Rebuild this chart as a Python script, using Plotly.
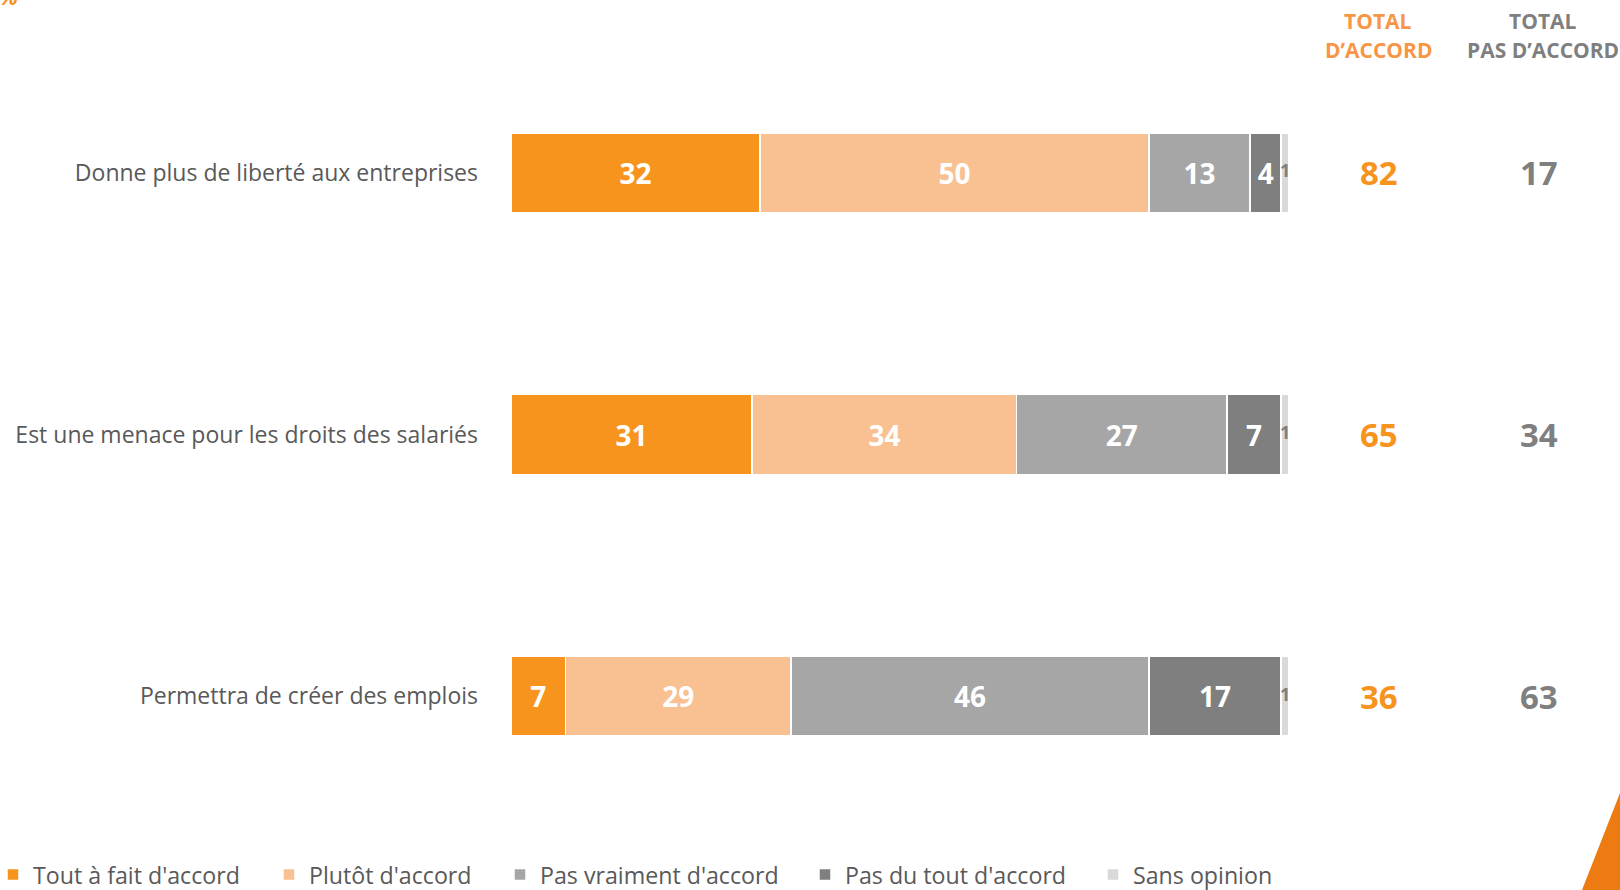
import plotly.graph_objects as go

categories = [
    "Donne plus de liberté aux entreprises",
    "Est une menace pour les droits des salariés",
    "Permettra de créer des emplois",
]
series_names = ["Tout à fait d'accord", "Plutôt d'accord", "Pas vraiment d'accord",
                "Pas du tout d'accord", "Sans opinion"]
tout_a_fait = [32, 31, 7]
plutot = [50, 34, 29]
pas_vraiment = [13, 27, 46]
pas_du_tout = [4, 7, 17]
sans_opinion = [1, 1, 1]
total_accord = [82, 65, 36]
total_pas_accord = [17, 34, 63]
header_accord = ["TOTAL", "D\u2019ACCORD"]
header_pas = ["TOTAL", "PAS D\u2019ACCORD"]

colors = ["#F7941D", "#F9C092", "#A6A6A6", "#7F7F7F", "#D9D9D9"]
series = [tout_a_fait, plutot, pas_vraiment, pas_du_tout, sans_opinion]

W, H = 1620, 890
L, R, T, B = 511, 1289, 42, 827
FONT = "Open Sans"


def px_x(p):
    return (p - L) / (R - L)


def px_y(p):
    return (B - p) / (B - T)


fig = go.Figure()
legend_px = [18, 294, 525, 830, 1118]
for i, (name, vals, col) in enumerate(zip(series_names, series, colors)):
    is_last = i == len(series) - 1
    fig.add_trace(go.Bar(
        y=categories, x=vals, name=name, orientation="h",
        marker=dict(color=col, line=dict(color="white", width=1.5)),
        text=None if is_last else vals,
        texttemplate=None if is_last else "%{x}",
        textposition="none" if is_last else "inside",
        insidetextanchor="middle",
        textangle=0,
        textfont=dict(family=FONT, size=28, color="white", weight="bold"),
        legend="legend" if i == 0 else f"legend{i+1}",
        hoverinfo="skip",
    ))

# small labels for the "Sans opinion" segment, centred on the segment
cum_before = [a + b + c + d for a, b, c, d in zip(tout_a_fait, plutot, pas_vraiment, pas_du_tout)]
fig.add_trace(go.Scatter(
    y=categories, x=[c + s / 2 for c, s in zip(cum_before, sans_opinion)],
    text=[str(s) for s in sans_opinion], mode="text",
    textfont=dict(family=FONT, size=18, color="#7F7F7F", weight="bold"),
    textposition="middle center", showlegend=False, cliponaxis=False, hoverinfo="skip",
))

annotations = []
for cat, ta, tp in zip(categories, total_accord, total_pas_accord):
    annotations.append(dict(x=px_x(1379), y=cat, xref="paper", yref="y", text=str(ta),
                            showarrow=False, xanchor="center", yanchor="middle",
                            font=dict(family=FONT, size=33, color="#F7941D", weight="bold")))
    annotations.append(dict(x=px_x(1539), y=cat, xref="paper", yref="y", text=str(tp),
                            showarrow=False, xanchor="center", yanchor="middle",
                            font=dict(family=FONT, size=33, color="#7F7F7F", weight="bold")))

for txt, yy in zip(header_accord, [21, 50]):
    annotations.append(dict(x=px_x(1378), y=px_y(yy), xref="paper", yref="paper", text=txt,
                            showarrow=False, xanchor="center", yanchor="middle",
                            font=dict(family=FONT, size=21, color="#F79646", weight="bold")))
for txt, yy in zip(header_pas, [21, 50]):
    annotations.append(dict(x=px_x(1543), y=px_y(yy), xref="paper", yref="paper", text=txt,
                            showarrow=False, xanchor="center", yanchor="middle",
                            font=dict(family=FONT, size=21, color="#7F7F7F", weight="bold")))

annotations.append(dict(x=px_x(-3), y=px_y(13), xref="paper", yref="paper", text="%",
                        showarrow=False, xanchor="left", yanchor="bottom",
                        font=dict(family=FONT, size=22, color="#F7941D", weight="bold",
                                  style="italic")))

legend_common = dict(orientation="h", yanchor="middle", xanchor="left",
                     font=dict(family=FONT, size=23.2, color="#595959"),
                     bgcolor="rgba(0,0,0,0)", borderwidth=0, itemclick=False,
                     itemdoubleclick=False)
legend_layout = {}
for i, p in enumerate(legend_px):
    key = "legend" if i == 0 else f"legend{i+1}"
    legend_layout[key] = dict(x=px_x(p - 25), y=px_y(875), **legend_common)

shapes = [dict(type="path", xref="paper", yref="paper",
               path=f"M {px_x(1620)} {px_y(793)} L {px_x(1620)} {px_y(890)} L {px_x(1582)} {px_y(890)} Z",
               fillcolor="#EE7A12", line=dict(width=0))]

fig.update_layout(
    width=W, height=H,
    margin=dict(l=L, r=W - R, t=T, b=H - B, pad=0, autoexpand=False),
    barmode="stack", bargap=0.694,
    plot_bgcolor="white", paper_bgcolor="white",
    xaxis=dict(range=[0, 100], visible=False, fixedrange=True),
    yaxis=dict(categoryorder="array", categoryarray=categories, autorange="reversed",
               showgrid=False, showline=False, zeroline=False, ticks="",
               ticklabelstandoff=32,
               tickfont=dict(family=FONT, size=23, color="#595959"), fixedrange=True),
    annotations=annotations,
    shapes=shapes,
    **legend_layout,
)

fig.write_html("out.html")
